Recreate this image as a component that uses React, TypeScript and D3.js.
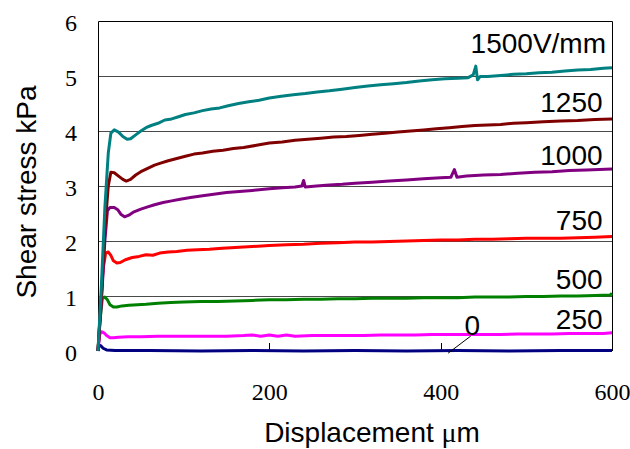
import React, { useRef, useEffect } from "react";
import * as d3 from "d3";

// values: [displacement µm, shear stress kPa]
const s0 = [[0,0],[1,0.1],[3,0.1],[6,0.05],[10,0.02],[20,0.01],[60,0.01],[120,0.0],[180,0.01],[240,0.0],[300,0.01],[360,0.0],[420,0.01],[480,0.0],[540,0.01],[600,0.01]];
const s250 = [[0,0],[2,0.3],[4,0.35],[7,0.33],[10,0.28],[14,0.24],[18,0.24],[24,0.25],[35,0.26],[50,0.26],[70,0.27],[90,0.27],[110,0.27],[130,0.27],[150,0.27],[170,0.28],[180,0.29],[190,0.27],[200,0.29],[210,0.27],[220,0.29],[230,0.27],[250,0.28],[270,0.28],[290,0.28],[310,0.28],[330,0.29],[350,0.29],[370,0.29],[390,0.3],[410,0.3],[430,0.3],[450,0.3],[470,0.3],[490,0.31],[510,0.31],[530,0.31],[550,0.32],[570,0.32],[590,0.32],[600,0.33]];
const s500 = [[0,0],[2,0.5],[5,0.95],[8,0.98],[11,0.93],[14,0.84],[18,0.8],[22,0.8],[28,0.82],[36,0.83],[46,0.84],[56,0.85],[70,0.87],[85,0.88],[100,0.89],[120,0.9],[140,0.9],[160,0.91],[180,0.92],[200,0.93],[220,0.93],[240,0.94],[260,0.94],[280,0.95],[300,0.95],[320,0.96],[340,0.96],[360,0.96],[380,0.97],[400,0.97],[420,0.97],[440,0.98],[460,0.98],[480,0.98],[500,0.99],[520,0.99],[540,1.0],[560,1.0],[580,1.01],[598,1.02],[600,1.05]];
const s750 = [[0,0],[3,0.8],[6,1.5],[9,1.78],[12,1.8],[15,1.74],[18,1.64],[22,1.6],[26,1.61],[32,1.66],[40,1.7],[48,1.72],[56,1.75],[64,1.74],[72,1.78],[82,1.8],[92,1.81],[104,1.83],[116,1.84],[130,1.85],[145,1.87],[160,1.88],[180,1.9],[200,1.92],[220,1.93],[240,1.94],[260,1.96],[280,1.97],[300,1.98],[320,1.98],[340,1.99],[360,2.0],[380,2.01],[400,2.02],[420,2.02],[440,2.03],[460,2.03],[480,2.04],[500,2.05],[520,2.05],[540,2.05],[560,2.06],[580,2.07],[600,2.08]];
const s1000 = [[0,0],[4,0.9],[8,2.0],[11,2.55],[14,2.61],[19,2.61],[23,2.57],[27,2.48],[31,2.44],[36,2.47],[42,2.53],[50,2.58],[58,2.62],[66,2.66],[76,2.7],[86,2.73],[96,2.76],[108,2.79],[120,2.82],[135,2.85],[150,2.88],[165,2.9],[180,2.92],[200,2.95],[215,2.97],[230,2.98],[238,3.0],[240,3.1],[242,2.98],[255,3.0],[270,3.02],[285,3.03],[300,3.05],[320,3.07],[340,3.09],[360,3.11],[380,3.13],[400,3.15],[412,3.16],[416,3.3],[419,3.16],[430,3.18],[450,3.2],[470,3.21],[490,3.23],[510,3.25],[530,3.26],[550,3.28],[570,3.29],[585,3.3],[600,3.31]];
const s1250 = [[0,0],[4,1.0],[8,2.2],[12,3.0],[15,3.25],[19,3.24],[24,3.18],[29,3.12],[33,3.09],[38,3.12],[44,3.2],[50,3.26],[58,3.32],[66,3.38],[74,3.42],[82,3.46],[92,3.5],[102,3.54],[112,3.58],[122,3.6],[134,3.63],[146,3.65],[158,3.68],[170,3.7],[185,3.74],[200,3.78],[215,3.8],[230,3.83],[245,3.85],[260,3.87],[275,3.89],[290,3.9],[305,3.92],[320,3.94],[335,3.96],[350,3.98],[365,4.0],[380,4.02],[395,4.04],[410,4.06],[425,4.08],[440,4.1],[455,4.11],[470,4.12],[485,4.14],[500,4.15],[520,4.17],[540,4.18],[560,4.19],[580,4.21],[600,4.22]];
const s1500 = [[0,0],[4,1.2],[8,2.6],[12,3.6],[15,3.96],[19,4.02],[24,3.98],[29,3.9],[34,3.85],[38,3.86],[44,3.93],[50,4.0],[56,4.06],[62,4.1],[70,4.14],[78,4.2],[86,4.22],[94,4.26],[102,4.3],[112,4.33],[122,4.37],[132,4.4],[142,4.42],[152,4.46],[164,4.5],[176,4.53],[188,4.56],[200,4.6],[214,4.63],[228,4.66],[242,4.68],[256,4.71],[270,4.73],[285,4.76],[300,4.79],[315,4.82],[330,4.84],[345,4.86],[360,4.88],[375,4.91],[390,4.93],[405,4.95],[420,4.96],[432,4.97],[438,5.02],[441,5.18],[443,4.93],[446,4.99],[455,4.99],[470,5.01],[485,5.03],[500,5.04],[515,5.06],[530,5.07],[545,5.09],[560,5.11],[575,5.12],[590,5.14],[600,5.15]];

const seriesData = [s0, s250, s500, s750, s1000, s1250, s1500];
const seriesColors = ["#000080", "#ff00ff", "#008000", "#ff0000", "#800080", "#800000", "#008080"];

// curve labels: text, x, y (data units), right-aligned
const labelTexts = ["1500V/mm", "1250", "1000", "750", "500", "250"];
const labelX = [593, 589, 589, 589, 589, 589];
const labelY = [5.42, 4.35, 3.38, 2.2, 1.13, 0.4];
const zeroLabel = { text: "0", x: 437, y: 0.29 };
const zeroLeader = [[408.7, -0.04], [435, 0.27]];

const xTicks = [0, 200, 400, 600];
const yTicks = [0, 1, 2, 3, 4, 5, 6];

const SERIF = "Liberation Serif, Times New Roman, Times, DejaVu Serif, Noto Serif, serif";
const SANS = "Liberation Sans, Arial, sans-serif";

const App = () => {
  const svgRef = useRef<SVGSVGElement>(null);
  const width = 630;
  const height = 449;
  const margin = { left: 98, right: 18, top: 21, bottom: 98 };

  useEffect(() => {
    const x = d3.scaleLinear().domain([0, 600]).range([margin.left, width - margin.right]);
    const y = d3.scaleLinear().domain([0, 6]).range([height - margin.bottom, margin.top]);

    const svg = d3.select(svgRef.current);
    svg.selectAll("*").remove();

    // gridlines
    svg.append("g")
      .selectAll("line")
      .data(yTicks.filter((d) => d > 0 && d < 6))
      .enter()
      .append("line")
      .attr("x1", x(0)).attr("x2", x(600))
      .attr("y1", (d) => Math.round(y(d)) + 0.5).attr("y2", (d) => Math.round(y(d)) + 0.5)
      .attr("stroke", "#4a4a4a").attr("stroke-width", 1);

    // frame: top, right, left
    svg.append("path")
      .attr("d", `M${x(0) + 0.5},${Math.round(y(0))}V${Math.round(y(6)) + 0.5}H${Math.round(x(600)) + 0.5}V${Math.round(y(0))}`)
      .attr("fill", "none").attr("stroke", "#000").attr("stroke-width", 1);

    // inward x ticks
    svg.append("g")
      .selectAll("line")
      .data(xTicks)
      .enter()
      .append("line")
      .attr("x1", (d) => Math.round(x(d)) + 0.5).attr("x2", (d) => Math.round(x(d)) + 0.5)
      .attr("y1", y(0)).attr("y2", y(0) - 8)
      .attr("stroke", "#000").attr("stroke-width", 1);

    const yAxis = d3.axisLeft(y).tickValues(yTicks).tickSize(0).tickPadding(21).tickFormat((v) => `${v}`);
    const gy = svg.append("g").attr("transform", `translate(${margin.left},0)`).call(yAxis);
    gy.select(".domain").remove();
    gy.attr("font-family", SERIF).attr("font-size", 24);
    gy.selectAll("text").attr("dy", "0.38em").attr("fill", "#000");

    const xAxis = d3.axisBottom(x).tickValues(xTicks).tickSize(0).tickPadding(32).tickFormat((v) => `${v}`);
    const gx = svg.append("g").attr("transform", `translate(0,${y(0)})`).call(xAxis);
    gx.select(".domain").remove();
    gx.attr("font-family", SERIF).attr("font-size", 24);
    gx.selectAll("text").attr("fill", "#000");

    // series
    const line = d3.line<number[]>().x((d) => x(d[0])).y((d) => y(d[1]));
    svg.append("g")
      .selectAll("path")
      .data(seriesData)
      .enter()
      .append("path")
      .attr("fill", "none")
      .attr("stroke", (d, i) => seriesColors[i])
      .attr("stroke-width", 3)
      .attr("stroke-linejoin", "round")
      .attr("d", (d) => line(d));

    // curve labels
    svg.append("g")
      .selectAll("text")
      .data(labelTexts)
      .enter()
      .append("text")
      .attr("x", (d, i) => x(labelX[i]))
      .attr("y", (d, i) => y(labelY[i]))
      .attr("text-anchor", "end")
      .attr("font-family", SANS)
      .attr("font-size", 28)
      .attr("fill", "#000")
      .text((d) => d);

    svg.append("line")
      .attr("x1", x(zeroLeader[0][0])).attr("y1", y(zeroLeader[0][1]))
      .attr("x2", x(zeroLeader[1][0])).attr("y2", y(zeroLeader[1][1]))
      .attr("stroke", "#000").attr("stroke-width", 1);
    svg.append("text")
      .attr("x", x(zeroLabel.x)).attr("y", y(zeroLabel.y))
      .attr("text-anchor", "middle")
      .attr("font-family", SANS).attr("font-size", 28).attr("fill", "#000")
      .text(zeroLabel.text);

    // axis titles
    svg.append("text")
      .attr("transform", `translate(36,192) rotate(-90)`)
      .attr("text-anchor", "middle")
      .attr("font-family", SANS).attr("font-size", 28).attr("fill", "#000")
      .text("Shear stress kPa");

    const xt = svg.append("text")
      .attr("x", 372).attr("y", 442)
      .attr("text-anchor", "middle")
      .attr("font-family", SANS).attr("font-size", 28).attr("fill", "#000");
    xt.append("tspan").text("Displacement ");
    xt.append("tspan").attr("font-family", SERIF).text("\u03bc");
    xt.append("tspan").text("m");
  }, []);

  return (
    <svg
      ref={svgRef}
      width={width}
      height={height}
      style={{ position: "absolute", left: 0, top: 0, background: "#fff" }}
    />
  );
};

export default App;
